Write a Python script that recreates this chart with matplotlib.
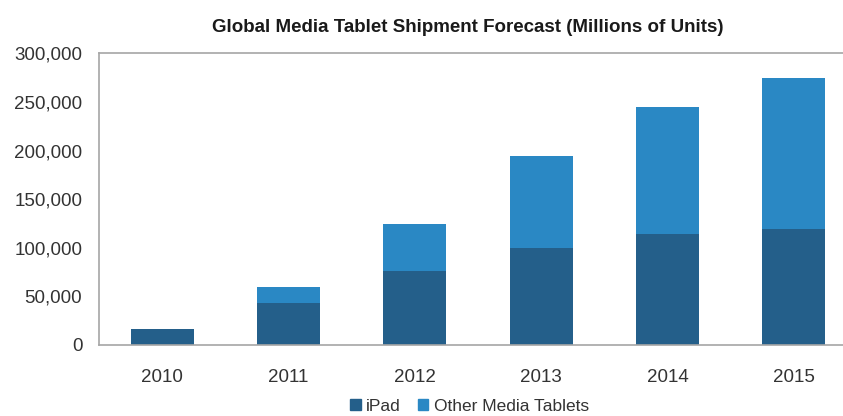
import matplotlib
matplotlib.use("Agg")
import matplotlib.pyplot as plt
from matplotlib.ticker import FuncFormatter
from matplotlib.patches import Patch

# Data
years = ["2010", "2011", "2012", "2013", "2014", "2015"]
ipad = [16000, 43000, 76000, 100000, 114000, 119000]
other = [0, 17000, 48000, 94000, 131000, 156000]
yticks = [0, 50000, 100000, 150000, 200000, 250000, 300000]

DARK = "#245f8a"
LIGHT = "#2a88c4"
GRID = "#a6a6a6"

plt.rcParams["font.family"] = ["Liberation Sans", "DejaVu Sans"]

fig = plt.figure(figsize=(8.43, 4.16), dpi=100)
ax = fig.add_axes([0.1174, 0.1707, 0.8826, 0.7012])

x = range(len(years))
ax.bar(x, ipad, width=0.5, color=DARK, label="iPad")
ax.bar(x, other, width=0.5, bottom=ipad, color=LIGHT, label="Other Media Tablets")

ax.set_xlim(-0.5, 5.39)
ax.set_ylim(0, 300000)
ax.set_yticks(yticks)
ax.yaxis.set_major_formatter(FuncFormatter(lambda v, p: f"{int(v):,}"))
ax.set_xticks(list(x))
ax.set_xticklabels(years)
ax.tick_params(axis="both", length=0, labelsize=13.5, colors="#333333")
ax.tick_params(axis="y", pad=12)
ax.tick_params(axis="x", pad=17)

for side in ["left", "bottom", "top"]:
    ax.spines[side].set_color(GRID)
    ax.spines[side].set_linewidth(1.2)
ax.spines["right"].set_visible(False)

fig.text(0.555, 0.935, "Global Media Tablet Shipment Forecast (Millions of Units)",
         ha="center", va="center", fontsize=13.5, fontweight="bold", color="#1a1a1a")

handles = [Patch(color=DARK, label="iPad"), Patch(color=LIGHT, label="Other Media Tablets")]
fig.legend(handles=handles, loc="center", bbox_to_anchor=(0.557, 0.024), ncol=2,
           frameon=False, fontsize=12.5, handlelength=0.6, handleheight=0.6,
           handletextpad=0.3, columnspacing=1.0, labelcolor="#333333")

fig.savefig("out.png", dpi=100)
